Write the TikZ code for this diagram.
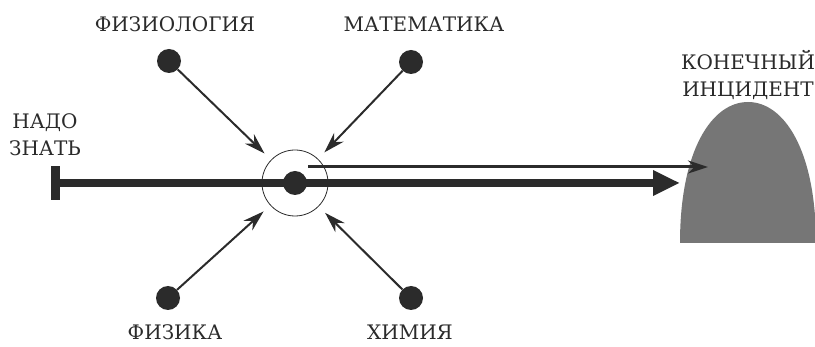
\documentclass[tikz,border=0pt]{standalone}
\usepackage{fontspec}
\setmainfont{DejaVu Serif}
\usetikzlibrary{arrows.meta,calc}
\definecolor{ink}{HTML}{2B2B2B}
\definecolor{moundgray}{HTML}{767676}

\begin{document}
\begin{tikzpicture}[x=1pt, y=-1pt, >=Stealth,
    every node/.style={font=\fontsize{20}{27}\selectfont, text=ink},
    src/.style={circle, fill=ink, minimum size=24pt, inner sep=0pt},
    feed/.style={draw=ink, line width=2pt, shorten >=9pt, -{Stealth[length=21pt,width=13pt]}}]

    \useasboundingbox (0,0) rectangle (815,347);

    % parameters
    \def\hubx{295}
    \def\huby{183}
    \def\moundl{680}
    \def\moundr{816}
    \def\moundtop{102}
    \def\moundbase{243}

    % hub
    \coordinate (C) at (\hubx,\huby);
    \node[circle, draw=ink, line width=0.8pt, minimum size=66pt, inner sep=0pt] (hub) at (C) {};

    % end incident (mound)
    \fill[moundgray] (\moundl,\moundbase) .. controls (\moundl,150) and (712,\moundtop) .. (748,\moundtop)
        .. controls (784,\moundtop) and (\moundr,150) .. (\moundr,\moundbase) -- cycle;
    \coordinate (hit) at (\moundl,\huby);
    \coordinate (aim) at (708,167);
    \coordinate (tail) at ($(C)+(13,-16)$);

    % main line
    \node[fill=ink, minimum width=9pt, minimum height=34pt, inner sep=0pt] (bar) at (55.5,\huby) {};
    \draw[ink, line width=8pt, -{Triangle[length=27pt,width=24pt]}] (bar.center) -- (hit);
    \draw[ink, line width=3pt, -{Stealth[length=20pt,width=13pt]}] (tail) -- (aim);
    \node[circle, fill=ink, minimum size=24pt, inner sep=0pt] (core) at (C) {};

    % sources
    \node[src] (fiziologiya) at (169,61) {};
    \node[src] (matematika) at (411,62) {};
    \node[src] (fizika) at (168,298) {};
    \node[src] (khimiya) at (411,298) {};

    \draw[feed] (fiziologiya) -- (hub);
    \draw[feed] (matematika) -- (hub);
    \draw[feed] (fizika) -- (hub);
    \draw[feed] (khimiya) -- (hub);

    % labels
    \node[anchor=base] (lfiziologiya) at (175,32) {ФИЗИОЛОГИЯ};
    \node[anchor=base] (lmatematika) at (424,32) {МАТЕМАТИКА};
    \node[anchor=base] (lfizika) at (175,340) {ФИЗИКА};
    \node[anchor=base] (lkhimiya) at (410,340) {ХИМИЯ};
    \node[align=center] (lnado) at (45,135) {НАДО\\ЗНАТЬ};
    \node[align=center] (lkonec) at (748,75) {КОНЕЧНЫЙ\\ИНЦИДЕНТ};
\end{tikzpicture}
\end{document}
